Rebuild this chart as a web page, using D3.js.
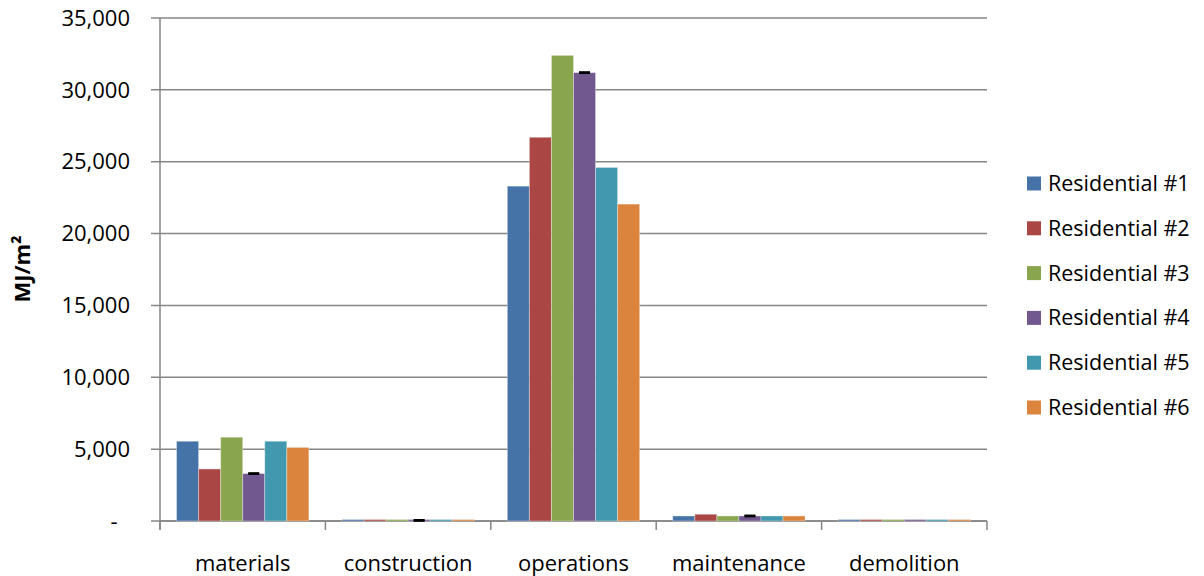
<!DOCTYPE html>
<html>
<head>
<meta charset="utf-8">
<script src="https://cdnjs.cloudflare.com/ajax/libs/d3/7.8.5/d3.min.js"></script>
<style>
body { margin: 0; background: #fff; }
svg text { font-family: "Open Sans", "Liberation Sans", sans-serif; fill: #000; }
.grid line, .axis line, .axis path { stroke: #868686; stroke-width: 1.5px; }
</style>
</head>
<body>
<svg id="chart" width="1204" height="576"></svg>
<script>
var categories = ["materials", "construction", "operations", "maintenance", "demolition"];
var seriesNames = ["Residential #1", "Residential #2", "Residential #3",
                   "Residential #4", "Residential #5", "Residential #6"];
var res1 = [5550, 40, 23300, 350, 20];
var res2 = [3620, 40, 26700, 470, 20];
var res3 = [5830, 40, 32400, 350, 20];
var res4 = [3300, 40, 31200, 350, 20];
var res5 = [5550, 40, 24600, 350, 20];
var res6 = [5120, 40, 22050, 350, 20];
var res4Err = [30, 30, 30, 30, 0];
var yTicks = [0, 5000, 10000, 15000, 20000, 25000, 30000, 35000];
var colors = ["#4572A7", "#AA4643", "#89A54E", "#71588F", "#4198AF", "#DB843D"];

var series = [res1, res2, res3, res4, res5, res6];

var svg = d3.select("#chart");
var mLeft = 160, mRight = 987, mTop = 18, mBottom = 521;

var x = d3.scaleBand().domain(categories).range([mLeft, mRight]).padding(0);
var xs = d3.scaleBand().domain(d3.range(series.length))
  .range([x.bandwidth() * 0.1, x.bandwidth() * 0.9]).padding(0);
var y = d3.scaleLinear().domain([0, 35000]).range([mBottom, mTop]);

// gridlines + left ticks
var grid = svg.append("g").attr("class", "grid");
grid.selectAll("line").data(yTicks).enter().append("line")
  .attr("x1", mLeft - 9).attr("x2", mRight)
  .attr("y1", function(d) { return y(d); })
  .attr("y2", function(d) { return y(d); });

// y tick labels
var fmt = d3.format(",");
svg.append("g").selectAll("text").data(yTicks).enter().append("text")
  .attr("x", function(d) { return d === 0 ? 114 : 130; })
  .attr("y", function(d) { return y(d); })
  .attr("dy", "0.35em")
  .attr("text-anchor", function(d) { return d === 0 ? "middle" : "end"; })
  .style("font-size", "22px")
  .text(function(d) { return d === 0 ? "-" : fmt(d); });

// axes lines
var ax = svg.append("g").attr("class", "axis");
ax.append("line").attr("x1", mLeft).attr("x2", mLeft).attr("y1", mTop).attr("y2", mBottom + 9);
ax.append("line").attr("x1", mLeft).attr("x2", mRight).attr("y1", mBottom).attr("y2", mBottom);
var bounds = categories.map(function(c) { return x(c); }).concat([mRight]);
ax.selectAll("line.ct").data(bounds).enter().append("line")
  .attr("class", "ct")
  .attr("x1", function(d) { return d; }).attr("x2", function(d) { return d; })
  .attr("y1", mBottom).attr("y2", mBottom + 9);

// bars (drawn over the axis, so the tiny ones still show)
var groups = svg.append("g").selectAll("g").data(series).enter().append("g")
  .attr("fill", function(d, i) { return colors[i]; });
groups.each(function(s, si) {
  d3.select(this).selectAll("rect").data(s).enter().append("rect")
    .attr("x", function(d, ci) { return x(categories[ci]) + xs(si); })
    .attr("width", xs.bandwidth())
    .attr("y", function(d) { return Math.min(y(d), mBottom - 1.5); })
    .attr("height", function(d) { return Math.max(y(0) - y(d), 1.5); })
    .attr("stroke", "#ffffff")
    .attr("stroke-opacity", 0.35)
    .attr("stroke-width", 1);
});

// error bars on Residential #4
var eb = svg.append("g").attr("stroke", "#000").attr("stroke-width", 2);
res4.forEach(function(v, ci) {
  if (!res4Err[ci]) return;
  var cx = x(categories[ci]) + xs(3) + xs.bandwidth() / 2;
  var y1 = y(v + res4Err[ci]), y0 = y(v - res4Err[ci]);
  eb.append("line").attr("x1", cx).attr("x2", cx).attr("y1", y1).attr("y2", y0);
  eb.append("line").attr("x1", cx - 5.5).attr("x2", cx + 5.5).attr("y1", y1).attr("y2", y1);
  eb.append("line").attr("x1", cx - 5.5).attr("x2", cx + 5.5).attr("y1", y0).attr("y2", y0);
});

// category labels
svg.append("g").selectAll("text").data(categories).enter().append("text")
  .attr("x", function(d) { return x(d) + x.bandwidth() / 2; })
  .attr("y", 571)
  .attr("text-anchor", "middle")
  .style("font-size", "22px")
  .text(function(d) { return d; });

// y axis title
svg.append("text")
  .attr("transform", "translate(30,269) rotate(-90)")
  .attr("text-anchor", "middle")
  .style("font-size", "22px")
  .style("font-weight", "bold")
  .text("MJ/m²");

// legend
var legend = svg.append("g").selectAll("g").data(seriesNames).enter().append("g")
  .attr("transform", function(d, i) { return "translate(1027," + (183.5 + i * 44.8) + ")"; });
legend.append("rect").attr("x", 0).attr("y", -7).attr("width", 14).attr("height", 14)
  .attr("fill", function(d, i) { return colors[i]; });
legend.append("text").attr("x", 21).attr("y", 0).attr("dy", "0.35em")
  .style("font-size", "21.5px")
  .text(function(d) { return d; });
</script>
</body>
</html>
